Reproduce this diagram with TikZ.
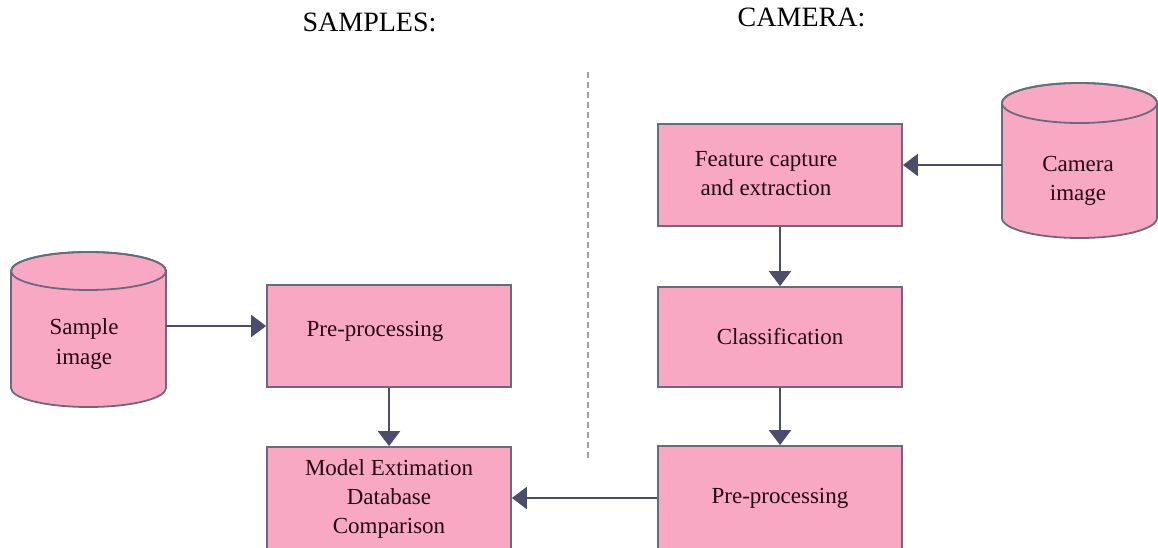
\documentclass[tikz,border=0pt]{standalone}
\usepackage{fontspec}
\setmainfont{Liberation Serif}
\usetikzlibrary{arrows.meta}
\definecolor{boxfill}{HTML}{F9A8C4}
\definecolor{boxline}{HTML}{6A6A7E}
\definecolor{arrowcol}{HTML}{4C4C6C}
\definecolor{txtcol}{HTML}{240A12}
\definecolor{dashcol}{HTML}{A0A0A0}
\begin{document}
\begin{tikzpicture}[x=1pt,y=-1pt,
  procbox/.style={draw=boxline, fill=boxfill, line width=1.8pt, minimum width=244pt, inner sep=0pt, text=txtcol, align=center, font=\rmfamily\fontsize{23}{29}\selectfont},
  cylhold/.style={minimum width=155pt, minimum height=155pt, inner sep=0pt},
  lbltext/.style={text=txtcol, align=center, font=\rmfamily\fontsize{23}{29}\selectfont, inner sep=0pt},
  titletext/.style={text=black, font=\rmfamily\fontsize{28}{32}\selectfont, inner sep=0pt, anchor=base},
  conn/.style={draw=arrowcol, line width=2.2pt, -{Triangle[length=15pt,width=22pt]}}
]
\useasboundingbox (0,0) rectangle (1158,548);
\clip (0,0) rectangle (1158,548);
\fill[white] (0,0) rectangle (1158,548);

% titles
\node[titletext] (tsamp) at (369.5,32) {SAMPLES:};
\node[titletext] (tcam) at (801.5,27) {CAMERA:};

% dashed separator
\coordinate (dtop) at (588,72);
\coordinate (dbot) at (588,461);
\draw[dashcol, line width=1.5pt, dash pattern=on 6pt off 4pt] (dtop) -- (dbot);

% cylinders
\newcommand{\mycyl}[5]{% L R T B ry
  \pgfmathsetmacro{\cx}{(#1+#2)/2}
  \pgfmathsetmacro{\rx}{(#2-#1)/2}
  \filldraw[draw=boxline, fill=boxfill, line width=1.8pt]
    (#1,#3+#5) -- (#1,#4-#5) arc[start angle=180, end angle=0, x radius=\rx, y radius=#5]
    -- (#2,#3+#5) arc[start angle=0, end angle=-180, x radius=\rx, y radius=#5] -- cycle;
  \draw[boxline, line width=1.8pt] (\cx,#3+#5) ellipse [x radius=\rx, y radius=#5];
}
\mycyl{11}{166}{252}{407}{19}
\mycyl{1002}{1157}{83}{238}{20}
\node[cylhold] (samp) at (88.5,326) {};
\node[cylhold] (cam) at (1079.5,165) {};
\node[lbltext] (samptxt) at (84,344) {Sample\\image};
\node[lbltext] (camtxt) at (1078,181) {Camera\\image};

% boxes
\node[procbox, minimum height=102pt] (pre1) at (389,336) {};
\node[lbltext] (pre1txt) at (375,331) {Pre-processing};
\node[procbox, minimum height=104pt] (model) at (389,499) {Model Extimation\\Database\\Comparison};
\node[procbox, minimum height=102pt] (feat) at (780,175) {};
\node[lbltext] (feattxt) at (766,174) {Feature capture\\and extraction};
\node[procbox, minimum height=100pt] (cls) at (780,337) {Classification};
\node[procbox, minimum height=104pt] (pre2) at (780,498) {Pre-processing};

% connectors
\draw[conn] (samp.east) -- (samp.east -| pre1.west);
\draw[conn] (pre1.south) -- (model.north);
\draw[conn] (pre2.west) -- (pre2.west -| model.east);
\draw[conn] (cls.south) -- (pre2.north);
\draw[conn] (feat.south) -- (cls.north);
\draw[conn] (cam.west) -- (cam.west -| feat.east);
\end{tikzpicture}
\end{document}
